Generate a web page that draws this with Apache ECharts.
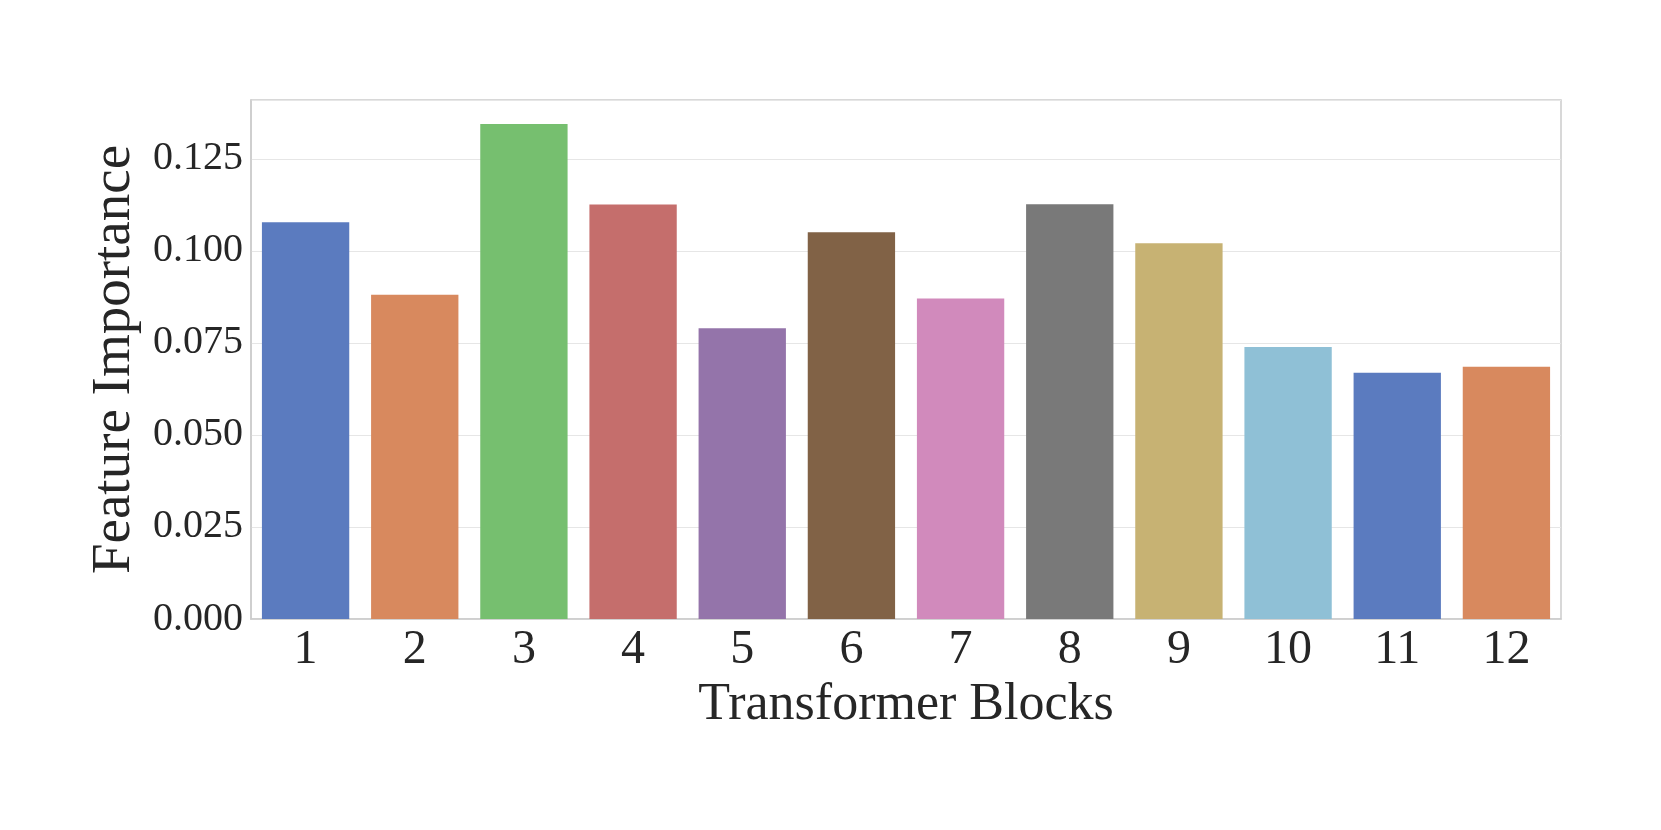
<!DOCTYPE html>
<html>
<head>
<meta charset="utf-8">
<title>Feature Importance</title>
<script src="https://cdn.jsdelivr.net/npm/echarts@6/dist/echarts.min.js"></script>
<style>
  html, body { margin: 0; padding: 0; background: #fff; }
  #chart { width: 1661px; height: 830px; }
</style>
</head>
<body>
<div id="chart"></div>
<script>
  // data
  var blocks = ['1', '2', '3', '4', '5', '6', '7', '8', '9', '10', '11', '12']
  var importance = [0.1078, 0.0881, 0.1345, 0.1126, 0.0790, 0.1051, 0.0871, 0.1127, 0.1021, 0.0739, 0.0669, 0.0685]
  var yTicks = [0, 0.025, 0.05, 0.075, 0.1, 0.125]

  // seaborn "muted" palette, desaturated
  var palette = ['#5b7bbf', '#d8895e', '#76bf6f', '#c56e6c', '#9474aa', '#816246',
    '#d18abc', '#797979', '#c7b273', '#8fc0d6']

  var font = '"Liberation Serif", "DejaVu Serif", serif'
  var textColor = '#262626'

  var chart = echarts.init(document.getElementById('chart'))

  var option = {
    backgroundColor: '#fff',
    animation: false,
    grid: {
      left: 251,
      right: 100,
      top: 100,
      bottom: 211,
      show: true,
      borderColor: '#cccccc',
      borderWidth: 1.5,
      containLabel: false
    },
    xAxis: {
      type: 'category',
      data: blocks,
      name: 'Transformer Blocks',
      nameLocation: 'middle',
      nameGap: 55,
      nameTextStyle: { fontFamily: font, fontSize: 52, color: textColor, lineHeight: 52 },
      axisLine: { show: true, lineStyle: { color: '#cccccc', width: 1.5 } },
      axisTick: { show: false },
      axisLabel: { fontFamily: font, fontSize: 48, color: textColor, margin: 7, lineHeight: 48 },
      splitLine: { show: false }
    },
    yAxis: {
      type: 'value',
      min: yTicks[0],
      max: 0.141,
      interval: yTicks[1] - yTicks[0],
      name: 'Feature Importance',
      nameLocation: 'middle',
      nameGap: 104,
      nameTextStyle: { fontFamily: font, fontSize: 55, color: textColor, lineHeight: 55 },
      axisLine: { show: true, lineStyle: { color: '#cccccc', width: 1.5 } },
      axisTick: { show: false },
      axisLabel: {
        fontFamily: font,
        fontSize: 40,
        color: textColor,
        margin: 8,
        showMaxLabel: false,
        formatter: function (v) { return v.toFixed(3) }
      },
      splitLine: { show: true, lineStyle: { color: '#e6e6e6', width: 1.2 } }
    },
    series: [{
      type: 'bar',
      barCategoryGap: '20%',
      data: importance.map(function (v, i) {
        return { value: v, itemStyle: { color: palette[i % palette.length] } }
      })
    }]
  }

  chart.setOption(option)
</script>
</body>
</html>
